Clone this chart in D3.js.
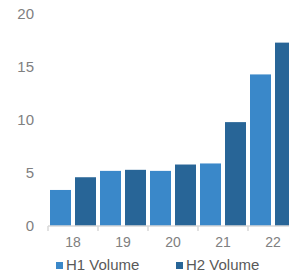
<!DOCTYPE html>
<html>
<head>
<meta charset="utf-8">
<script src="https://cdn.jsdelivr.net/npm/d3@7"></script>
<style>
  body { margin: 0; background: #fff; }
  text { font-family: "Liberation Sans", Arial, sans-serif; }
</style>
</head>
<body>
<div id="chart"></div>
<script>
var WIDTH = 289, HEIGHT = 276;

// data
var years = ["18", "19", "20", "21", "22"];
var halves = ["H1", "H2"];
var h1Volume = [3.4, 5.2, 5.2, 5.9, 14.3];
var h2Volume = [4.6, 5.3, 5.8, 9.8, 17.3];
var yTicks = [0, 5, 10, 15, 20];
var legendLabels = ["H1 Volume", "H2 Volume"];
var colors = { H1: "#3a88c9", H2: "#286597" };

var svg = d3.select("#chart").append("svg")
  .attr("width", WIDTH).attr("height", HEIGHT);

var x0 = d3.scaleBand().domain(years).range([48, 298]).padding(0);
var x1 = d3.scaleBand().domain(halves).range([2, 48]).paddingInner(0.16).paddingOuter(0);
var y = d3.scaleLinear().domain([0, 20]).range([226, 14]);

// y labels
svg.append("g").selectAll("text")
  .data(yTicks)
  .enter().append("text")
  .attr("x", 34)
  .attr("y", function(d) { return y(d); })
  .attr("dy", "0.36em")
  .attr("text-anchor", "end")
  .attr("font-size", 15)
  .attr("fill", "#808080")
  .text(function(d) { return d; });

// bars
var rows = years.map(function(yr, i) {
  return { year: yr, values: [{ k: "H1", v: h1Volume[i] }, { k: "H2", v: h2Volume[i] }] };
});

var yearG = svg.append("g").selectAll("g")
  .data(rows)
  .enter().append("g")
  .attr("transform", function(d) { return "translate(" + x0(d.year) + ",0)"; });

yearG.selectAll("rect")
  .data(function(d) { return d.values; })
  .enter().append("rect")
  .attr("x", function(d) { return x1(d.k); })
  .attr("width", x1.bandwidth())
  .attr("y", function(d) { return y(d.v); })
  .attr("height", function(d) { return y(0) - y(d.v); })
  .attr("fill", function(d) { return colors[d.k]; });

// x axis
var xAxis = svg.append("g").attr("transform", "translate(0," + y(0) + ")");
xAxis.append("line")
  .attr("x1", x0.range()[0]).attr("x2", x0.range()[1])
  .attr("stroke", "#d9d9d9").attr("stroke-width", 1.5);
xAxis.selectAll("line.tick")
  .data(years.concat(["end"]))
  .enter().append("line")
  .attr("class", "tick")
  .attr("x1", function(d, i) { return x0.range()[0] + i * x0.step(); })
  .attr("x2", function(d, i) { return x0.range()[0] + i * x0.step(); })
  .attr("y1", 0).attr("y2", 5)
  .attr("stroke", "#d9d9d9").attr("stroke-width", 1.5);
xAxis.selectAll("text")
  .data(years)
  .enter().append("text")
  .attr("x", function(d) { return x0(d) + x0.bandwidth() / 2; })
  .attr("y", 21)
  .attr("text-anchor", "middle")
  .attr("font-size", 14)
  .attr("fill", "#808080")
  .text(function(d) { return d; });

// legend
var legend = svg.append("g");
var legendX = [56, 176];
halves.forEach(function(k, i) {
  legend.append("rect")
    .attr("x", legendX[i]).attr("y", 262)
    .attr("width", 7).attr("height", 7)
    .attr("fill", colors[k]);
  legend.append("text")
    .attr("x", legendX[i] + 10).attr("y", 270)
    .attr("font-size", 15)
    .attr("fill", "#595959")
    .text(legendLabels[i]);
});
</script>
</body>
</html>
